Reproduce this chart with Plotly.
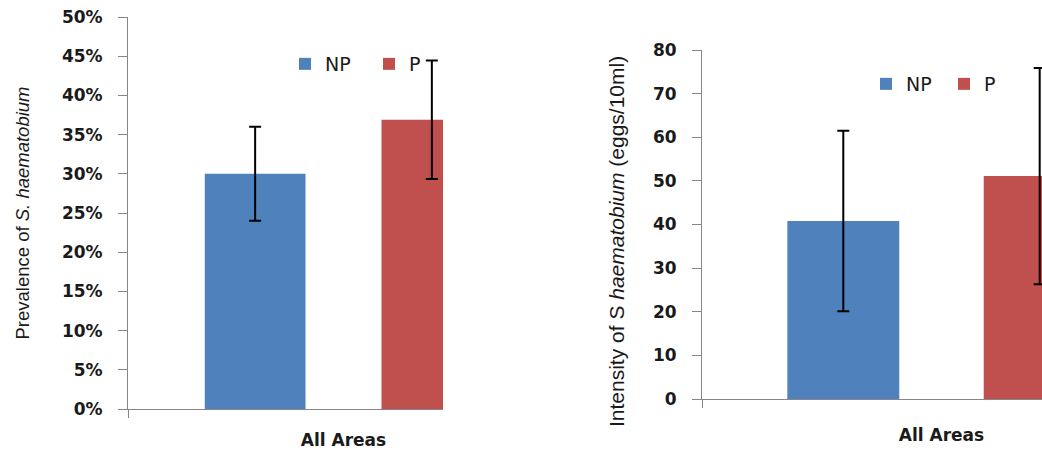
import plotly.graph_objects as go

# ---- data ----
categories = ["All Areas"]
series_names = ["NP", "P"]
prevalence = [0.300, 0.369]          # fraction
prevalence_err = [0.060, 0.0755]
intensity = [40.8, 51.1]             # eggs/10ml
intensity_err = [20.7, 24.8]
colors = ["#4F81BD", "#C0504D"]
left_title = "Prevalence of <i>S. haematobium</i>"
right_title = "Intensity of S <i>haematobium</i> (eggs/10ml)"

W, H = 1042, 451
AXIS_GRAY = "#868686"
TXT = "#1a1a1a"

fig = go.Figure()

for i, name in enumerate(series_names):
    fig.add_trace(go.Bar(
        x=categories, y=[prevalence[i]], name=name,
        marker=dict(color=colors[i], line=dict(width=0)),
        error_y=dict(type="data", array=[prevalence_err[i]], color="black", thickness=2, width=6),
        xaxis="x", yaxis="y", legend="legend", offsetgroup=str(i),
    ))
for i, name in enumerate(series_names):
    fig.add_trace(go.Bar(
        x=categories, y=[intensity[i]], name=name,
        marker=dict(color=colors[i], line=dict(width=0)),
        error_y=dict(type="data", array=[intensity_err[i]], color="black", thickness=2, width=6),
        xaxis="x2", yaxis="y2", legend="legend2", offsetgroup=str(i),
    ))

def px_x(p):
    return p / W

def px_y(p):
    return 1 - p / H

tick_font = dict(family="DejaVu Sans", size=17, color=TXT, weight="bold")
TITLE_FAM = "Liberation Sans, Arial, sans-serif"

common_x = dict(type="category", showline=True, linecolor=AXIS_GRAY, linewidth=1,
                ticks="outside", tickson="boundaries", ticklen=8, tickcolor=AXIS_GRAY,
                showgrid=False, zeroline=False, automargin=False, fixedrange=True,
                tickfont=dict(family="DejaVu Sans", size=17, color=TXT, weight="bold"))
common_y = dict(showline=True, linecolor=AXIS_GRAY, linewidth=1, ticks="outside",
                ticklen=9, tickcolor=AXIS_GRAY, showgrid=False, zeroline=False,
                automargin=False, fixedrange=True, tickfont=tick_font, ticklabelstandoff=12)

legend_font = dict(family="DejaVu Sans", size=19, color=TXT)

fig.update_layout(
    width=W, height=H, autosize=False,
    margin=dict(l=0, r=0, t=0, b=0, pad=0),
    paper_bgcolor="white", plot_bgcolor="white",
    barmode="group", bargap=0.18, bargroupgap=0.43,
    xaxis=dict(common_x, domain=[px_x(128), px_x(443)], range=[-0.5, -0.5 + 315 / 431],
               anchor="y", ticklabelstandoff=16),
    yaxis=dict(common_y, domain=[px_y(409), px_y(17)], range=[0, 0.5], dtick=0.05,
               tickformat=".0%", anchor="x",
               title=dict(text=left_title, font=dict(family=TITLE_FAM, size=18.5, color=TXT),
                          standoff=27)),
    xaxis2=dict(common_x, domain=[px_x(702), 1.0], range=[-0.5, -0.5 + 340 / 479],
                anchor="y2", ticklabelstandoff=21),
    yaxis2=dict(common_y, domain=[px_y(399), px_y(50)], range=[0, 80], dtick=10,
                anchor="x2"),
    legend=dict(orientation="h", x=px_x(285), xanchor="left", y=px_y(64), yanchor="middle",
                entrywidth=39, bgcolor="rgba(0,0,0,0)", font=legend_font),
    legend2=dict(orientation="h", x=px_x(866), xanchor="left", y=px_y(84), yanchor="middle",
                 entrywidth=33, bgcolor="rgba(0,0,0,0)", font=legend_font),
    annotations=[dict(text=right_title, xref="paper", yref="paper",
                      x=px_x(616), y=px_y(242), xanchor="center", yanchor="middle",
                      textangle=-90, showarrow=False,
                      font=dict(family=TITLE_FAM, size=21, color=TXT))],
)

fig.write_html("out.html",
               config={"displayModeBar": False, "staticPlot": True},
               post_script="document.body.style.margin='0px';document.body.style.padding='0px';")
